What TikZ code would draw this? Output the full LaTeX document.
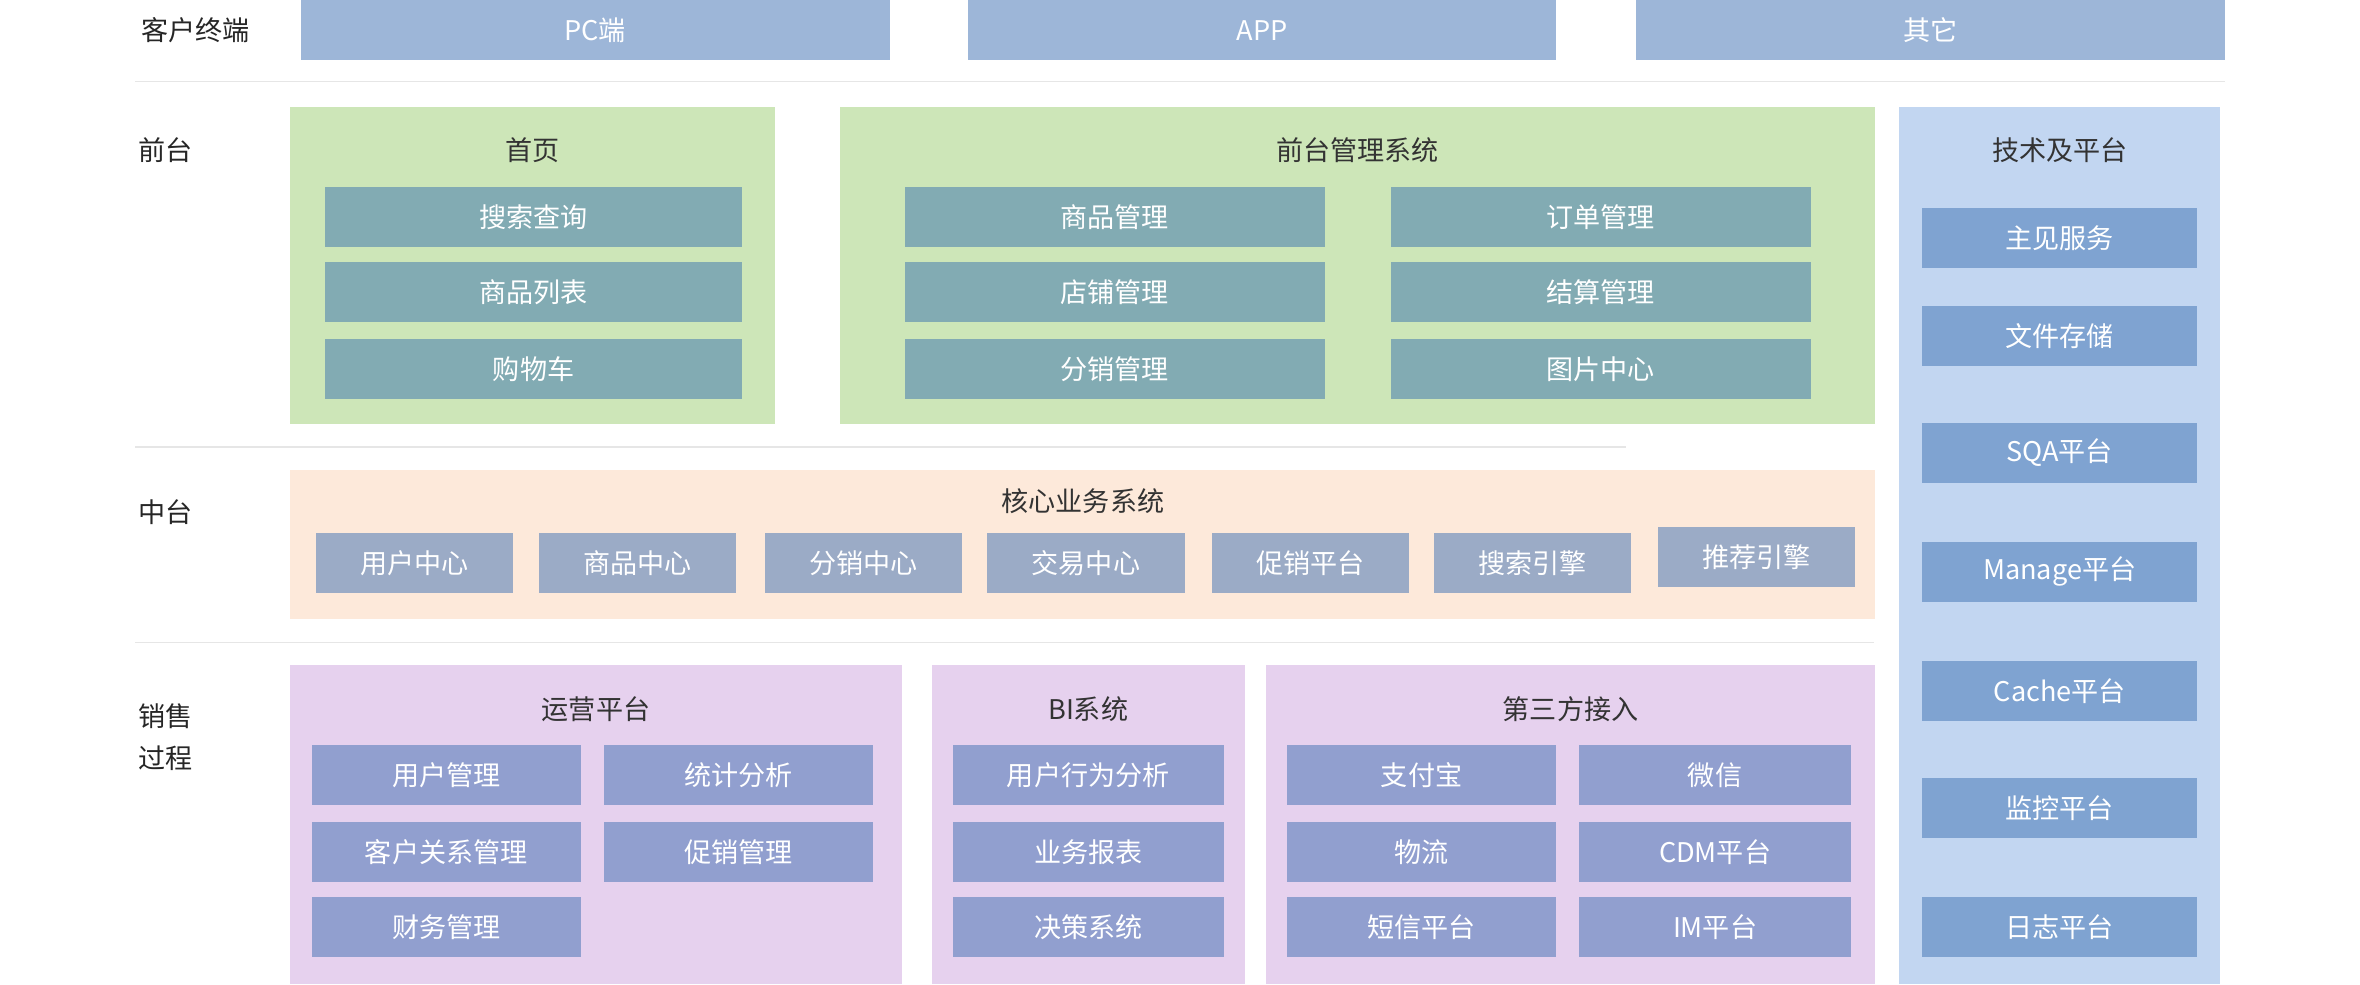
\documentclass[tikz,border=0pt]{standalone}
\usepackage{fontspec}
\setmainfont{Noto Sans CJK SC}
\definecolor{topblue}{HTML}{9DB6D8}
\definecolor{greenbg}{HTML}{CDE6B8}
\definecolor{tealbox}{HTML}{82ABB3}
\definecolor{peachbg}{HTML}{FDE9DA}
\definecolor{greybox}{HTML}{9BABC6}
\definecolor{purplebg}{HTML}{E6D1EE}
\definecolor{violetbox}{HTML}{919FCF}
\definecolor{sidebg}{HTML}{C2D6F1}
\definecolor{sidebox}{HTML}{7FA3D1}
\definecolor{sepline}{HTML}{E6E6E6}
\tikzset{
  area/.style={draw=none, inner sep=0pt},
  cell/.style={draw=none, inner sep=0pt, text=white, minimum height=40pt,
    font=\fontsize{18}{20}\selectfont},
  ttl/.style={text=black!80, font=\fontsize{18}{20}\selectfont},
  rowlbl/.style={text=black!85, align=left, font=\fontsize{18}{28}\selectfont},
}
\begin{document}
\begin{tikzpicture}[x=1pt,y=-1pt]
\useasboundingbox (0,0) rectangle (1568,654);
% separators
\draw[sepline, line width=1pt] (90,54) -- (1478,54);
\draw[sepline, line width=1pt] (90,297) -- (1080,297);
\draw[sepline, line width=1pt] (90,427) -- (1245,427);
% row labels
\node[rowlbl] (lclient) at (130,20) {客户终端};
\node[rowlbl] (lfront) at (110,100) {前台};
\node[rowlbl] (lmid) at (110,340) {中台};
\node[rowlbl] (lsale) at (110,490) {销售\\过程};
% client terminals
\node[cell, fill=topblue, minimum width=391pt] (pc) at (395.5,20) {PC端};
\node[cell, fill=topblue, minimum width=391pt] (app) at (838.5,20) {APP};
\node[cell, fill=topblue, minimum width=391pt] (other) at (1282.5,20) {其它};
% front: home
\node[area, fill=greenbg, minimum width=322pt, minimum height=211pt] (home) at (354,176.5) {};
\node[ttl] (hometitle) at (354,100) {首页};
\foreach \y/\t [count=\i] in {144/搜索查询, 194/商品列表, 245/购物车}
  \node[cell, fill=tealbox, minimum width=277pt] (home\i) at (354.5,\y) {\t};
% front: management
\node[area, fill=greenbg, minimum width=688pt, minimum height=211pt] (mgmt) at (902,176.5) {};
\node[ttl] (mgmttitle) at (902,100) {前台管理系统};
\foreach \y/\a/\b [count=\i] in {144/商品管理/订单管理, 194/店铺管理/结算管理, 245/分销管理/图片中心}{
  \node[cell, fill=tealbox, minimum width=279pt] (mgl\i) at (740.5,\y) {\a};
  \node[cell, fill=tealbox, minimum width=279pt] (mgr\i) at (1063.5,\y) {\b};
}
% tech platform column
\node[area, fill=sidebg, minimum width=213pt, minimum height=583pt] (tech) at (1368.5,362.5) {};
\node[ttl] (techtitle) at (1368.5,100) {技术及平台};
\foreach \y/\t [count=\i] in {158/主见服务, 223/文件存储, 301/SQA平台, 380/Manage平台, 459/Cache平台, 537/监控平台, 616/日志平台}
  \node[cell, fill=sidebox, minimum width=183pt] (tech\i) at (1368.5,\y) {\t};
% middle: core business
\node[area, fill=peachbg, minimum width=1053pt, minimum height=99pt] (core) at (719.5,361.5) {};
\node[ttl] (coretitle) at (719.5,333) {核心业务系统};
\foreach \x/\y/\t [count=\i] in {275.5/374/用户中心, 423.5/374/商品中心, 573.5/374/分销中心, 721.5/374/交易中心, 870.5/374/促销平台, 1018/374/搜索引擎, 1167/370/推荐引擎}
  \node[cell, fill=greybox, minimum width=131pt] (core\i) at (\x,\y) {\t};
% sales: operations
\node[area, fill=purplebg, minimum width=406pt, minimum height=212pt] (ops) at (396,548) {};
\node[ttl] (opstitle) at (396,471) {运营平台};
\node[cell, fill=violetbox, minimum width=179pt] (ops1) at (296.5,515) {用户管理};
\node[cell, fill=violetbox, minimum width=179pt] (ops2) at (490.5,515) {统计分析};
\node[cell, fill=violetbox, minimum width=179pt] (ops3) at (296.5,566) {客户关系管理};
\node[cell, fill=violetbox, minimum width=179pt] (ops4) at (490.5,566) {促销管理};
\node[cell, fill=violetbox, minimum width=179pt] (ops5) at (296.5,616) {财务管理};
% sales: BI
\node[area, fill=purplebg, minimum width=208pt, minimum height=212pt] (bi) at (723,548) {};
\node[ttl] (bititle) at (723,471) {BI系统};
\foreach \y/\t [count=\i] in {515/用户行为分析, 566/业务报表, 616/决策系统}
  \node[cell, fill=violetbox, minimum width=180pt] (bi\i) at (723,\y) {\t};
% sales: third party
\node[area, fill=purplebg, minimum width=405pt, minimum height=212pt] (third) at (1043.5,548) {};
\node[ttl] (thirdtitle) at (1043.5,471) {第三方接入};
\foreach \y/\a/\b [count=\i] in {515/支付宝/微信, 566/物流/CDM平台, 616/短信平台/IM平台}{
  \node[cell, fill=violetbox, minimum width=179pt] (tpl\i) at (944.5,\y) {\a};
  \node[cell, fill=violetbox, minimum width=181pt] (tpr\i) at (1139.5,\y) {\b};
}
\end{tikzpicture}
\end{document}
